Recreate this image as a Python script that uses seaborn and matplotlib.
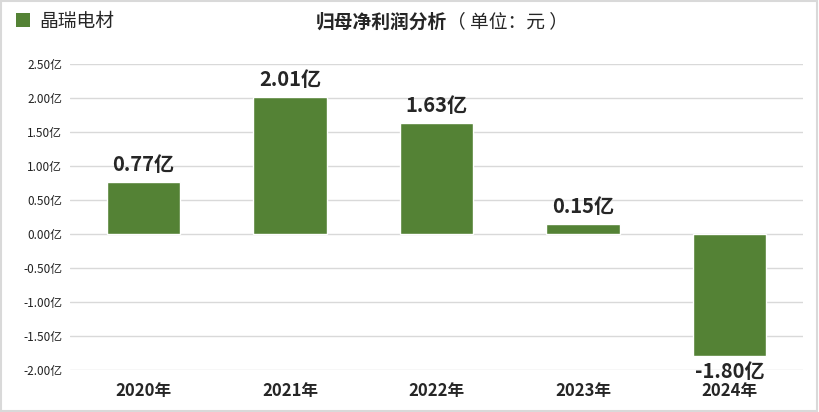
import matplotlib.pyplot as plt
import seaborn as sns
from matplotlib.patches import Patch, Rectangle

years = ["2020年", "2021年", "2022年", "2023年", "2024年"]
profit = [0.77, 2.01, 1.63, 0.15, -1.80]
series_name = "晶瑞电材"
y_ticks = [2.5, 2.0, 1.5, 1.0, 0.5, 0.0, -0.5, -1.0, -1.5, -2.0]

bar_color = "#548235"

sns.set_style("white")
plt.rcParams['font.family'] = ['Noto Sans CJK SC', 'DejaVu Sans']
plt.rcParams['axes.unicode_minus'] = False

fig = plt.figure(figsize=(8.19, 4.12), dpi=100)
ax = fig.add_axes([0.086, 0.102, 0.894, 0.743])

sns.barplot(x=years, y=profit, color=bar_color, width=0.5, saturation=1, ax=ax, zorder=3)

ax.set_xlim(-0.5, len(years) - 0.5)
ax.set_ylim(-2.0, 2.5)
ax.set_yticks(y_ticks)
ax.set_yticklabels([f"{t:.2f}亿" for t in y_ticks], fontsize=8.5, color="#222222")
ax.yaxis.grid(True, color="#d9d9d9", linewidth=1, zorder=0)
ax.tick_params(axis='both', length=0)
ax.tick_params(axis='y', pad=6)
ax.tick_params(axis='x', pad=9)
for lbl in ax.get_xticklabels():
    lbl.set_fontweight('bold')
    lbl.set_fontsize(12)
sns.despine(ax=ax, left=True, bottom=True, top=True, right=True)
ax.set_xlabel("")
ax.set_ylabel("")

for i, v in enumerate(profit):
    if v >= 0:
        ax.annotate(f"{v:.2f}亿", (i, v), xytext=(0, 5), textcoords="offset points",
                    ha='center', va='bottom', fontsize=14.5, fontweight='bold')
    else:
        ax.annotate(f"{v:.2f}亿", (i, v), xytext=(0, -3), textcoords="offset points",
                    ha='center', va='top', fontsize=14.5, fontweight='bold')

fig.text(447 / 819, 0.947, "归母净利润分析", ha='right', va='center',
         fontsize=13.5, fontweight='bold')
fig.text(447 / 819, 0.947, "（ 单位：元 ）", ha='left', va='center', fontsize=13.5)

handle = Patch(facecolor=bar_color, edgecolor='none')
fig.legend([handle], [series_name], loc='center left', bbox_to_anchor=(0.020, 0.949),
           frameon=False, fontsize=13.5, handlelength=0.75, handleheight=0.75,
           handletextpad=0.45, borderaxespad=0, borderpad=0)

fig.patches.append(Rectangle((0.001, 0.002), 0.997, 0.995, transform=fig.transFigure,
                             fill=False, edgecolor="#d9d9d9", linewidth=1.5))

fig.savefig("out.png", dpi=100)
